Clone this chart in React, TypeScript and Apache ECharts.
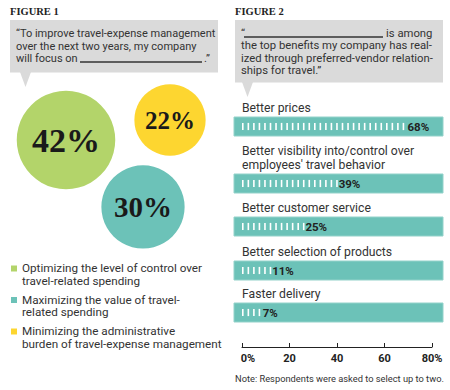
import React, { useEffect, useRef } from "react";
import * as echarts from "echarts";

// ---- Figure 1 data ----
const fig1Values = [42, 30, 22];
const fig1Names = [
  "Optimizing the level of control over\ntravel-related spending",
  "Maximizing the value of travel-\nrelated spending",
  "Minimizing the administrative\nburden of travel-expense management",
];
const fig1Colors = ["#b3d46a", "#6cc2b8", "#fdd630"];
// layout: circle centres (px)
const circleCenters = [
  [66, 140],
  [143, 207],
  [170, 120],
];
const legendOrder = [0, 1, 2];

// ---- Figure 2 data ----
const fig2Categories = [
  "Better prices",
  "Better visibility into/control over\nemployees' travel behavior",
  "Better customer service",
  "Better selection of products",
  "Faster delivery",
];
const fig2Values = [68, 39, 25, 11, 7];
const axisTicks = [0, 20, 40, 60, 80];

// layout
const barTops = [117, 174, 217, 261, 303];
const BAR_H = 19;

const SANS = "Roboto, 'Open Sans', sans-serif";
const SERIF = "'Liberation Serif', 'DejaVu Serif', serif";
const TEXT = "#333333";
const BOX = "#dadada";
const TEAL = "#6cc2b8";

export default function App() {
  const ref = useRef<HTMLDivElement>(null);
  useEffect(() => {
    if (!ref.current) return;
    const chart = echarts.init(ref.current, undefined, { renderer: "svg" });

    const K = 7.6;
    const grids: any[] = [];
    const xAxes: any[] = [];
    const yAxes: any[] = [];
    const series: any[] = [];

    // grid 0: circles (pixel space)
    grids.push({ left: 0, top: 0, width: 225, height: 390 });
    xAxes.push({ gridIndex: 0, type: "value", min: 0, max: 225, show: false });
    yAxes.push({ gridIndex: 0, type: "value", min: 0, max: 390, inverse: true, show: false });
    series.push({
      type: "scatter",
      xAxisIndex: 0,
      yAxisIndex: 0,
      silent: true,
      symbol: "circle",
      data: fig1Values.map((v, i) => {
        const r = K * Math.sqrt(v);
        return {
          value: [circleCenters[i][0], circleCenters[i][1], v],
          symbolSize: 2 * r,
          itemStyle: { color: fig1Colors[i], opacity: 1 },
          label: {
            show: true,
            position: "inside",
            formatter: v + "%",
            fontFamily: SERIF,
            fontWeight: "bold",
            fontSize: Math.round(r * 0.7),
            color: "#1a1a1a",
          },
        };
      }),
    });

    // bar grids
    const pxPerUnit = 190 / 80;
    const minV = -8 / pxPerUnit;
    const maxV = 80 + 11 / pxPerUnit;
    fig2Values.forEach((v, i) => {
      const gi = grids.length;
      grids.push({ left: 234, width: 209, top: barTops[i], height: BAR_H });
      xAxes.push({ gridIndex: gi, type: "value", min: minV, max: maxV, show: false });
      yAxes.push({ gridIndex: gi, type: "category", data: [fig2Categories[i]], show: false });
      series.push({
        type: "bar",
        xAxisIndex: gi,
        yAxisIndex: gi,
        silent: true,
        barWidth: BAR_H,
        data: [v],
        showBackground: true,
        backgroundStyle: { color: TEAL, borderColor: "#93d2ca", borderWidth: 1 },
        itemStyle: { color: "rgba(0,0,0,0)" },
        label: {
          show: true,
          position: "right",
          distance: 4,
          formatter: "{c}%",
          fontFamily: SANS,
          fontWeight: "bold",
          fontSize: 11.5,
          color: "#222",
        },
      });
      series.push({
        type: "pictorialBar",
        xAxisIndex: gi,
        yAxisIndex: gi,
        silent: true,
        symbol: "rect",
        symbolRepeat: true,
        symbolSize: [1.6, 7],
        symbolMargin: 2,
        symbolPosition: "start",
        itemStyle: { color: "#ffffff" },
        data: [v],
        z: 3,
      });
    });

    // axis grid
    const ai = grids.length;
    grids.push({ left: 242, width: 190, top: 330, height: 17 });
    xAxes.push({
      gridIndex: ai,
      type: "value",
      min: 0,
      max: 80,
      interval: 20,
      axisLine: { show: true, lineStyle: { color: "#222", width: 1 } },
      axisTick: { show: true, inside: true, length: 4, lineStyle: { color: "#222", width: 1 } },
      splitLine: { show: false },
      axisLabel: {
        margin: 6,
        color: "#222",
        fontFamily: SANS,
        fontWeight: "bold",
        fontSize: 11,
        formatter: (val: number) => {
          if (val === axisTicks[0]) return "{a|" + val + "%}";
          if (val === axisTicks[axisTicks.length - 1]) return val + "%";
          return String(val);
        },
        rich: {
          a: { padding: [0, 0, 0, 12], fontFamily: SANS, fontWeight: "bold", fontSize: 11, color: "#222" },
        },
      },
    });
    yAxes.push({ gridIndex: ai, type: "value", show: false });

    const g: any[] = [];
    const txt = (x: number, y: number, text: string, opts: any = {}) => ({
      type: "text",
      x,
      y,
      silent: true,
      style: {
        text,
        fill: opts.fill || TEXT,
        fontFamily: opts.fontFamily || SANS,
        fontSize: opts.fontSize || 12.2,
        fontWeight: opts.fontWeight || "normal",
        lineHeight: opts.lineHeight,
        align: opts.align || "left",
        verticalAlign: opts.verticalAlign || "middle",
      },
    });

    // Figure titles
    g.push(txt(10, 11, "FIGURE 1", { fontFamily: SERIF, fontWeight: "bold", fontSize: 10.5, fill: "#222" }));
    g.push(txt(235, 11, "FIGURE 2", { fontFamily: SERIF, fontWeight: "bold", fontSize: 10.5, fill: "#222" }));

    // callout 1
    const B1 = 11.0;
    g.push({ type: "rect", silent: true, shape: { x: 10, y: 20, width: 208, height: 52.5 }, style: { fill: BOX } });
    g.push({ type: "polygon", silent: true, shape: { points: [[20, 72], [31, 72], [25.5, 87]] }, style: { fill: BOX } });
    g.push(txt(16, 33, "\u201CTo improve travel-expense management", { fontSize: B1 }));
    g.push(txt(16, 46, "over the next two years, my company", { fontSize: B1 }));
    g.push(txt(16, 58.5, "will focus on", { fontSize: B1 }));
    g.push({ type: "line", silent: true, shape: { x1: 80, y1: 62, x2: 202, y2: 62 }, style: { stroke: TEXT, lineWidth: 1.3 } });
    g.push(txt(204, 58.5, ".\u201D", { fontSize: B1 }));

    // callout 2
    const B2 = 11.3;
    g.push({ type: "rect", silent: true, shape: { x: 235, y: 20, width: 208, height: 62.5 }, style: { fill: BOX } });
    g.push({ type: "polygon", silent: true, shape: { points: [[242, 82], [253, 82], [247.5, 97]] }, style: { fill: BOX } });
    g.push(txt(241, 33, "\u201C", { fontSize: B2 }));
    g.push({ type: "line", silent: true, shape: { x1: 244, y1: 37, x2: 383, y2: 37 }, style: { stroke: TEXT, lineWidth: 1.3 } });
    g.push(txt(386, 33, "is among", { fontSize: B2 }));
    g.push(txt(241, 45.5, "the top benefits my company has real-", { fontSize: B2 }));
    g.push(txt(241, 58, "ized through preferred-vendor relation-", { fontSize: B2 }));
    g.push(txt(241, 70.5, "ships for travel.\u201D", { fontSize: B2 }));

    // legend figure 1
    legendOrder.forEach((idx, j) => {
      const top = 262 + j * 31.5;
      g.push({ type: "rect", silent: true, shape: { x: 11, y: top + 3.5, width: 6, height: 6 }, style: { fill: fig1Colors[idx] } });
      g.push(txt(22, top, fig1Names[idx], { verticalAlign: "top", lineHeight: 12.5, fontSize: 11.7 }));
    });

    // bar category labels
    fig2Categories.forEach((c, i) => {
      const lines = c.split("\n").length;
      const lastCenter = barTops[i] - 9.5;
      const top = lastCenter - 7 - (lines - 1) * 14;
      g.push(txt(242, top, c, { verticalAlign: "top", lineHeight: 14, fontSize: 12.2 }));
    });

    // note
    g.push(txt(235, 378, "Note: Respondents were asked to select up to two.", { fontSize: 9.3 }));

    chart.setOption({
      animation: false,
      backgroundColor: "#ffffff",
      grid: grids,
      xAxis: xAxes,
      yAxis: yAxes,
      series,
      graphic: g,
    });
    return () => chart.dispose();
  }, []);
  return <div ref={ref} style={{ position: "absolute", left: 0, top: 0, width: 450, height: 390 }} />;
}
